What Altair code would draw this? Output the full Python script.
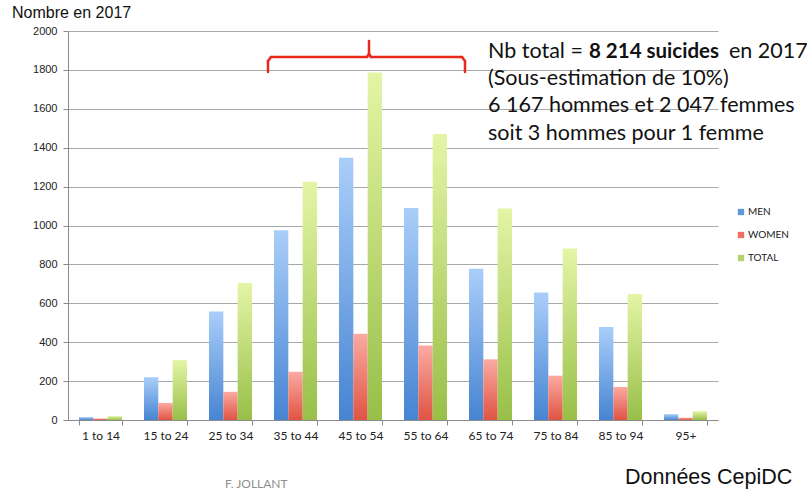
import altair as alt
import pandas as pd

# ---- data ----
ages = ["1 to 14", "15 to 24", "25 to 34", "35 to 44", "45 to 54",
        "55 to 64", "65 to 74", "75 to 84", "85 to 94", "95+"]
men = [15, 220, 558, 975, 1348, 1090, 778, 655, 478, 30]
women = [8, 88, 145, 248, 443, 383, 312, 228, 170, 12]
total = [20, 308, 705, 1225, 1787, 1470, 1088, 882, 648, 45]
series = ["MEN", "WOMEN", "TOTAL"]
y_ticks = list(range(0, 2001, 200))

rows = []
for a, m, w, t in zip(ages, men, women, total):
    rows.append({"age": a, "series": "MEN", "value": m})
    rows.append({"age": a, "series": "WOMEN", "value": w})
    rows.append({"age": a, "series": "TOTAL", "value": t})
df = pd.DataFrame(rows)

grad = {
    "MEN": ("#aacefa", "#4784d2"),
    "WOMEN": ("#fbaaa2", "#df5443"),
    "TOTAL": ("#e4f5a6", "#98bf48"),
}
legend_colors = ["#5f97dd", "#ec6f62", "#b3d46a"]

X = alt.X("age:N", sort=ages,
          scale=alt.Scale(paddingInner=0.338, paddingOuter=0.169),
          axis=alt.Axis(title=None, labelAngle=0, tickBand="extent", grid=False,
                        labelFont="Lato", labelFontSize=12, labelColor="#222",
                        tickSize=5, labelPadding=5, domainColor="#8a8a8a",
                        tickColor="#8a8a8a"))
XO = alt.XOffset("series:N", sort=series,
                 scale=alt.Scale(domain=series, paddingInner=0, paddingOuter=0))
Y = alt.Y("value:Q", scale=alt.Scale(domain=[0, 2000]),
          axis=alt.Axis(title=None, values=y_ticks, format="d", grid=True,
                        gridColor="#a8a8a8",
                        labelFont="Liberation Sans", labelFontSize=11, labelColor="#222",
                        tickSize=5, labelPadding=6, domainColor="#8a8a8a",
                        tickColor="#8a8a8a"))

layers = []
for s in series:
    top, bot = grad[s]
    g = alt.Gradient(gradient="linear",
                     stops=[alt.GradientStop(color=top, offset=0),
                            alt.GradientStop(color=bot, offset=1)],
                     x1=0, x2=0, y1=0, y2=1)
    layers.append(
        alt.Chart(df).transform_filter(alt.datum.series == s)
        .mark_bar(fill=g).encode(x=X, xOffset=XO, y=Y)
    )

legend_layer = alt.Chart(df).mark_square(opacity=0, size=1).encode(
    x=X, xOffset=XO, y=Y,
    color=alt.Color("series:N", sort=series,
                    scale=alt.Scale(domain=series, range=legend_colors),
                    legend=alt.Legend(title=None, orient="none", legendX=668, legendY=176,
                                      symbolType="square", symbolSize=40,
                                      symbolOpacity=1, symbolStrokeWidth=0,
                                      labelFont="Lato", labelFontSize=10,
                                      labelColor="#222", rowPadding=13,
                                      labelOffset=2)))

one = alt.Data(values=[{}])

def txt(text, x, y, size, font="Lato", weight="normal", color="#111", align="left"):
    return alt.Chart(one).mark_text(text=text, align=align, baseline="middle",
                                    font=font, fontSize=size, fontWeight=weight,
                                    color=color).encode(x=alt.value(x), y=alt.value(y))

texts = [
    txt("Nombre en 2017", -56, -18, 16, font="Liberation Sans"),
    txt("Nb total =", 420, 21, 21.5),
    txt("8 214 suicides", 521, 21, 20.5, weight="bold"),
    txt("en 2017", 661, 21, 21.5),
    txt("(Sous-estimation de 10%)", 420, 48, 21.5),
    txt("6 167 hommes et 2 047 femmes", 420, 75, 21.5),
    txt("soit 3 hommes pour 1 femme", 420, 103, 21.5),
    txt("F. JOLLANT", 157, 453, 12, color="#8f8f8f"),
    txt("Données CepiDC", 557, 447, 21.5, font="Liberation Sans"),
]

red = "#e8291c"

def rule(x, x2, y, y2):
    return alt.Chart(one).mark_rule(color=red, strokeWidth=2.5, strokeCap="round").encode(
        x=alt.value(x), x2=alt.value(x2), y=alt.value(y), y2=alt.value(y2))

bracket = [
    rule(200, 200, 30, 41),
    rule(203, 299, 26, 26),
    rule(303, 394, 26, 26),
    rule(397, 397, 30, 41),
    rule(301, 301, 10, 23),
    rule(200, 203, 30, 26),
    rule(394, 397, 26, 30),
    rule(299, 301, 26, 23),
    rule(301, 303, 23, 26),
]

chart = alt.layer(*layers, legend_layer, *bracket, *texts).properties(
    width=650, height=389,
    autosize=alt.AutoSizeParams(type="none"),
    padding={"left": 68, "top": 31, "right": 89, "bottom": 72},
    background="white",
).configure_view(strokeWidth=0)

chart.save("out.html", embed_options={"renderer": "svg", "actions": False})
